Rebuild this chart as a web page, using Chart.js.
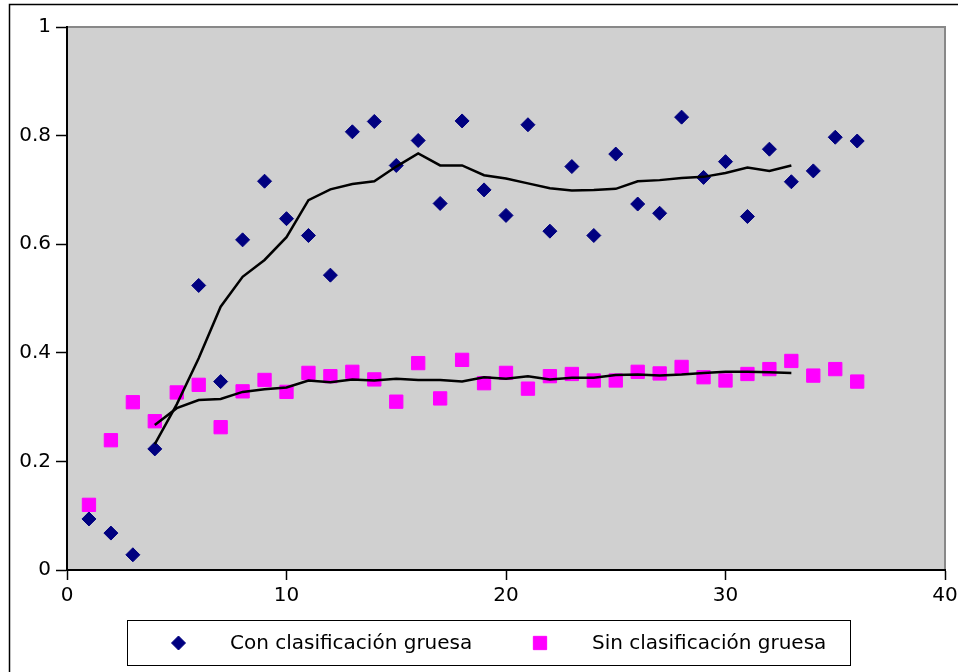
<!DOCTYPE html>
<html>
<head>
<meta charset="utf-8">
<style>
  html, body { margin: 0; padding: 0; background: #fff; }
  canvas { display: block; }
</style>
<script src="https://cdn.jsdelivr.net/npm/chart.js@4/dist/chart.umd.min.js"></script>
</head>
<body>
<canvas id="c" width="958" height="672"></canvas>
<script>
// ---- data ----
const seriesNames = ['Con clasificación gruesa', 'Sin clasificación gruesa'];

const conX = [1,2,3,4,6,7,8,9,10,11,12,13,14,15,16,17,18,19,20,21,22,23,24,25,26,27,28,29,30,31,32,33,34,35,36];
const conY = [0.094,0.068,0.028,0.223,0.524,0.347,0.608,0.716,0.647,0.616,0.543,0.807,0.826,0.745,0.791,0.675,0.827,0.700,0.653,0.820,0.624,0.743,0.616,0.766,0.674,0.657,0.834,0.723,0.752,0.651,0.775,0.715,0.735,0.797,0.790];

const sinX = [1,2,3,4,5,6,7,8,9,10,11,12,13,14,15,16,17,18,19,20,21,22,23,24,25,26,27,28,29,30,31,32,33,34,35,36];
const sinY = [0.120,0.239,0.309,0.274,0.327,0.341,0.263,0.329,0.350,0.328,0.363,0.357,0.365,0.351,0.310,0.381,0.316,0.387,0.344,0.363,0.334,0.357,0.361,0.349,0.349,0.365,0.362,0.374,0.355,0.349,0.361,0.370,0.385,0.358,0.370,0.347];

const trendX = [4,5,6,7,8,9,10,11,12,13,14,15,16,17,18,19,20,21,22,23,24,25,26,27,28,29,30,31,32,33];
const conTrend = [0.232,0.305,0.390,0.485,0.540,0.571,0.613,0.681,0.701,0.711,0.716,0.743,0.767,0.745,0.745,0.727,0.721,0.712,0.703,0.699,0.700,0.702,0.716,0.718,0.722,0.724,0.731,0.741,0.735,0.745];
const sinTrend = [0.267,0.298,0.313,0.315,0.328,0.333,0.336,0.349,0.346,0.351,0.349,0.352,0.350,0.350,0.347,0.355,0.352,0.357,0.351,0.354,0.354,0.359,0.360,0.358,0.360,0.363,0.365,0.365,0.364,0.363];

const xTicks = [0, 10, 20, 30, 40];
const yTicks = [0, 0.2, 0.4, 0.6, 0.8, 1];

// ---- build ----
const pts = (xs, ys) => xs.map((x, i) => ({ x: x, y: ys[i] }));

const FONT = "'DejaVu Sans', 'Liberation Sans', sans-serif";

const framePlugin = {
  id: 'frame',
  beforeDraw(chart) {
    const { ctx, chartArea: a } = chart;
    ctx.save();
    ctx.fillStyle = '#ffffff';
    ctx.fillRect(0, 0, chart.width, chart.height);
    // outer border
    ctx.strokeStyle = '#000';
    ctx.lineWidth = 1.5;
    ctx.strokeRect(9.5, 4.5, 2000, 2000);
    // plot area
    ctx.fillStyle = '#d0d0d0';
    ctx.fillRect(a.left, a.top, a.right - a.left, a.bottom - a.top);
    ctx.strokeStyle = '#888888';
    ctx.lineWidth = 2;
    ctx.beginPath();
    ctx.moveTo(a.left, a.top);
    ctx.lineTo(a.right, a.top);
    ctx.lineTo(a.right, a.bottom);
    ctx.stroke();
    ctx.restore();
  },
  afterDraw(chart) {
    const { ctx } = chart;
    ctx.save();
    // legend box
    ctx.fillStyle = '#fff';
    ctx.fillRect(127.5, 620.5, 723, 45);
    ctx.strokeStyle = '#000';
    ctx.lineWidth = 1;
    ctx.strokeRect(127.5, 620.5, 723, 45);
    const items = [
      { ds: chart.data.datasets[0], mx: 178.5, tx: 230 },
      { ds: chart.data.datasets[1], mx: 540, tx: 592 }
    ];
    const my = 643;
    items.forEach(it => {
      ctx.fillStyle = it.ds.backgroundColor;
      ctx.strokeStyle = it.ds.borderColor;
      ctx.lineWidth = it.ds.borderWidth;
      Chart.helpers.drawPoint(ctx, {
        pointStyle: it.ds.pointStyle,
        radius: it.ds.pointRadius,
        rotation: 0,
        borderWidth: it.ds.borderWidth
      }, it.mx, my);
      ctx.fillStyle = '#000';
      ctx.font = '20px ' + FONT;
      ctx.textBaseline = 'alphabetic';
      ctx.textAlign = 'left';
      ctx.fillText(it.ds.label, it.tx, 649);
    });
    ctx.restore();
  }
};

new Chart(document.getElementById('c'), {
  type: 'scatter',
  data: {
    datasets: [
      {
        label: seriesNames[0],
        data: pts(conX, conY),
        pointStyle: 'rectRot',
        pointRadius: 7,
        pointHoverRadius: 7,
        backgroundColor: '#000080',
        borderColor: '#000080',
        borderWidth: 1,
        showLine: false,
        order: 3
      },
      {
        label: seriesNames[1],
        data: pts(sinX, sinY),
        pointStyle: 'rect',
        pointRadius: 9.4,
        pointHoverRadius: 9.4,
        backgroundColor: '#ff00ff',
        borderColor: '#ff00ff',
        borderWidth: 1,
        showLine: false,
        order: 2
      },
      {
        label: 'trend con',
        type: 'line',
        data: pts(trendX, conTrend),
        borderColor: '#000',
        borderWidth: 2.5,
        pointRadius: 0,
        fill: false,
        tension: 0,
        order: 1
      },
      {
        label: 'trend sin',
        type: 'line',
        data: pts(trendX, sinTrend),
        borderColor: '#000',
        borderWidth: 2.5,
        pointRadius: 0,
        fill: false,
        tension: 0,
        order: 0
      }
    ]
  },
  options: {
    responsive: false,
    animation: false,
    devicePixelRatio: 1,
    layout: { autoPadding: false, padding: { top: 27, right: 13, left: 0, bottom: 0 } },
    plugins: {
      legend: { display: false },
      tooltip: { enabled: false },
      title: { display: false }
    },
    scales: {
      x: {
        type: 'linear',
        min: 0, max: 40,
        afterFit(s) { s.height = 102; s.paddingLeft = 0; s.paddingRight = 0; },
        afterBuildTicks(s) { s.ticks = xTicks.map(v => ({ value: v })); },
        ticks: {
          color: '#000',
          font: { family: FONT, size: 20 },
          padding: 4,
          maxRotation: 0,
          autoSkip: false,
          callback: v => String(v)
        },
        grid: {
          drawOnChartArea: false,
          drawTicks: true,
          tickLength: 10,
          tickWidth: 1.5,
          tickColor: '#000'
        },
        border: { display: true, color: '#000', width: 2 }
      },
      y: {
        type: 'linear',
        min: 0, max: 1,
        afterFit(s) { s.width = 67; s.paddingTop = 0; s.paddingBottom = 0; },
        afterBuildTicks(s) { s.ticks = yTicks.map(v => ({ value: v })); },
        ticks: {
          color: '#000',
          font: { family: FONT, size: 20 },
          padding: 5,
          autoSkip: false,
          callback: v => String(v)
        },
        grid: {
          drawOnChartArea: false,
          drawTicks: true,
          tickLength: 11,
          tickWidth: 1.5,
          tickColor: '#000'
        },
        border: { display: true, color: '#000', width: 2 }
      }
    }
  },
  plugins: [framePlugin]
});
</script>
</body>
</html>
